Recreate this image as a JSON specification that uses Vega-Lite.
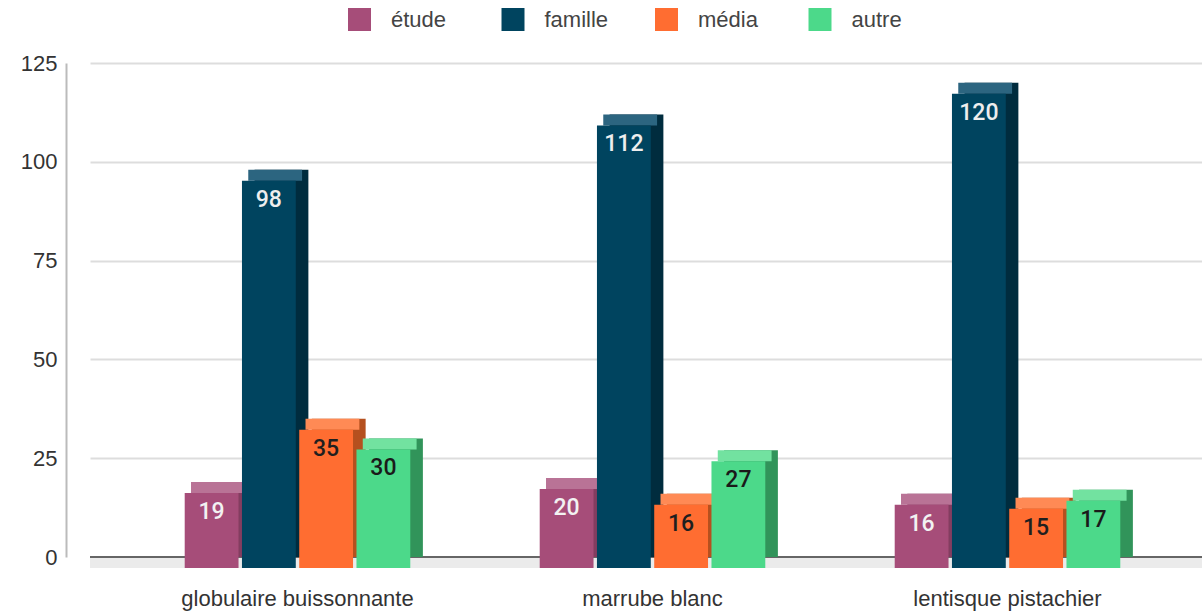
{
  "$schema": "https://vega.github.io/schema/vega-lite/v6.json",
  "width": 1112,
  "height": 494,
  "autosize": {"type": "none"},
  "padding": {"left": 90, "top": 63, "right": 0, "bottom": 56},
  "background": "white",
  "config": {"view": {"stroke": null}},
  "data": {
    "values": [
      {"plante": "globulaire buissonnante", "source": "étude", "n": 19},
      {"plante": "globulaire buissonnante", "source": "famille", "n": 98},
      {"plante": "globulaire buissonnante", "source": "média", "n": 35},
      {"plante": "globulaire buissonnante", "source": "autre", "n": 30},
      {"plante": "marrube blanc", "source": "étude", "n": 20},
      {"plante": "marrube blanc", "source": "famille", "n": 112},
      {"plante": "marrube blanc", "source": "média", "n": 16},
      {"plante": "marrube blanc", "source": "autre", "n": 27},
      {"plante": "lentisque pistachier", "source": "étude", "n": 16},
      {"plante": "lentisque pistachier", "source": "famille", "n": 120},
      {"plante": "lentisque pistachier", "source": "média", "n": 15},
      {"plante": "lentisque pistachier", "source": "autre", "n": 17}
    ]
  },
  "resolve": {"scale": {"color": "independent", "xOffset": "independent"}},
  "layer": [
    {
      "data": {"values": [{"v": 0}]},
      "mark": {"type": "rect", "color": "#ebebeb", "y2Offset": 11},
      "encoding": {
        "y": {"field": "v", "type": "quantitative", "scale": {"domain": [0, 125], "nice": false}},
        "y2": {"field": "v"}
      }
    },
    {
      "data": {"values": [{"v": 0}]},
      "mark": {"type": "rule", "color": "#666666", "strokeWidth": 2},
      "encoding": {
        "y": {"field": "v", "type": "quantitative"}
      }
    },
    {
      "mark": {"type": "bar"},
      "encoding": {
        "x": {"field": "plante", "type": "nominal", "sort": ["globulaire buissonnante", "marrube blanc", "lentisque pistachier"]},
        "xOffset": {
          "field": "source", "type": "nominal", "sort": ["étude", "famille", "média", "autre"],
          "scale": {"paddingInner": 0.06, "paddingOuter": 1.117, "align": 0.61}
        },
        "y": {"field": "n", "type": "quantitative", "stack": null},
        "color": {
          "field": "source", "type": "nominal", "sort": ["étude", "famille", "média", "autre"],
          "scale": {"domain": ["étude", "famille", "média", "autre"], "range": ["#833d60", "#002c3e", "#b5501f", "#31945a"]},
          "legend": null
        }
      }
    },
    {
      "mark": {"type": "bar", "y2Offset": 11},
      "encoding": {
        "x": {"field": "plante", "type": "nominal", "sort": ["globulaire buissonnante", "marrube blanc", "lentisque pistachier"]},
        "xOffset": {
          "field": "source", "type": "nominal", "sort": ["étude", "famille", "média", "autre"],
          "scale": {"paddingInner": 0.06, "paddingOuter": 1.117, "align": 0.555}
        },
        "y": {"field": "n", "type": "quantitative", "stack": null},
        "y2": {"field": "n"},
        "color": {
          "field": "source", "type": "nominal", "sort": ["étude", "famille", "média", "autre"],
          "scale": {"domain": ["étude", "famille", "média", "autre"], "range": ["#b97396", "#2c6580", "#ff8a55", "#72e2a0"]},
          "legend": null
        }
      }
    },
    {
      "resolve": {"scale": {"color": "independent", "xOffset": "shared"}},
      "layer": [
        {
          "mark": {"type": "bar", "yOffset": 11, "y2Offset": 11},
          "encoding": {
            "x": {
              "field": "plante", "type": "nominal",
              "sort": ["globulaire buissonnante", "marrube blanc", "lentisque pistachier"],
              "scale": {"paddingInner": 0.042, "paddingOuter": 0.0872, "align": 0.605},
              "axis": {
                "title": null, "domain": false, "ticks": false, "labelAngle": 0,
                "labelAlign": "center", "labelBaseline": "top",
                "labelPadding": 31, "labelFontSize": 22, "labelFont": "Liberation Sans",
                "labelColor": "#333333", "labelLimit": 0
              }
            },
            "xOffset": {
              "field": "source", "type": "nominal", "sort": ["étude", "famille", "média", "autre"],
              "scale": {"paddingInner": 0.06, "paddingOuter": 1.117, "align": 0.5}
            },
            "y": {
              "field": "n", "type": "quantitative", "stack": null,
              "scale": {"domain": [0, 125], "nice": false},
              "axis": {
                "title": null, "values": [0, 25, 50, 75, 100, 125], "offset": 24,
                "domain": true, "domainColor": "#bbbbbb", "domainWidth": 2,
                "ticks": false, "labelPadding": 9, "labelFontSize": 22,
                "labelFont": "Liberation Sans", "labelColor": "#333333",
                "gridColor": "#dddddd", "gridWidth": 2
              }
            },
            "y2": {"datum": 0},
            "color": {
              "field": "source", "type": "nominal", "sort": ["étude", "famille", "média", "autre"],
              "scale": {"domain": ["étude", "famille", "média", "autre"], "range": ["#a64d79", "#00445f", "#ff6d31", "#4cd98a"]},
              "legend": {
                "title": null, "orient": "none", "legendX": 258, "legendY": -55,
                "direction": "horizontal", "columns": 4, "gridAlign": "all",
                "columnPadding": 46.5, "padding": 0,
                "symbolType": "square", "symbolSize": 529, "symbolStrokeWidth": 0,
                "labelFontSize": 22, "labelFont": "Liberation Sans", "labelColor": "#444444",
                "labelOffset": 20
              }
            }
          }
        },
        {
          "mark": {"type": "text", "dy": 30, "font": "Roboto", "fontSize": 23, "fontWeight": 500, "baseline": "middle", "align": "center"},
          "encoding": {
            "x": {"field": "plante", "type": "nominal", "sort": ["globulaire buissonnante", "marrube blanc", "lentisque pistachier"]},
            "xOffset": {"field": "source", "type": "nominal", "sort": ["étude", "famille", "média", "autre"]},
            "y": {"field": "n", "type": "quantitative", "stack": null},
            "text": {"field": "n", "type": "quantitative"},
            "color": {
              "field": "source", "type": "nominal", "sort": ["étude", "famille", "média", "autre"],
              "scale": {"domain": ["étude", "famille", "média", "autre"], "range": ["#f2f2f2", "#eeeeee", "#1f1f1f", "#1a1a1a"]},
              "legend": null
            }
          }
        }
      ]
    }
  ]
}
